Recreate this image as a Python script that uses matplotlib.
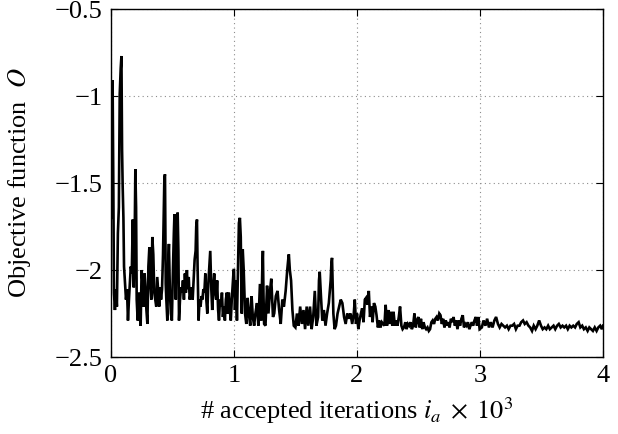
import matplotlib
matplotlib.use('Agg')
import matplotlib.pyplot as plt
import numpy as np

# accepted iterations 0..1000
seg_a_iters = [
    0, 8, 13, 19, 24, 32, 40, 48, 56, 64,
    71, 79, 85, 90, 95, 101, 106, 114, 122, 130,
    138, 146, 153, 161, 169, 177, 185, 193, 198, 204,
    209, 217, 225, 233, 241, 249, 257, 265, 273, 280,
    288, 296, 304, 312, 320, 328, 336, 344, 352, 360,
    368, 376, 384, 392, 400, 407, 415, 423, 429, 434,
    439, 445, 450, 458, 466, 471, 479, 487, 495, 503,
    511, 516, 521, 527, 534, 542, 548, 553, 561, 569,
    577, 585, 593, 601, 609, 617, 624, 632, 640, 648,
    656, 664, 672, 680, 688, 693, 699, 704, 712, 720,
    728, 736, 743, 751, 759, 767, 775, 783, 791, 799,
    807, 815, 823, 831, 839, 847, 855, 863, 871, 878,
    886, 894, 902, 910, 918, 926, 934, 942, 950, 958,
    966, 974, 982, 990, 997]
seg_a_vals = [
    -1.70, -1.33, -0.91, -1.52, -2.13, -2.23, -2.11, -2.21, -1.79, -1.64,
    -0.99, -0.84, -0.77, -1.31, -1.52, -1.70, -1.98, -2.08, -2.17, -2.11,
    -2.29, -2.17, -2.08, -1.98, -2.02, -1.71, -2.10, -1.79, -1.42, -1.64,
    -2.17, -2.29, -2.13, -2.25, -2.32, -2.00, -2.08, -2.21, -2.02, -2.10,
    -2.23, -2.31, -1.98, -1.87, -2.08, -2.17, -1.81, -1.91, -2.13, -2.17,
    -2.21, -2.04, -2.13, -2.21, -2.10, -2.17, -2.11, -1.91, -1.68, -1.47,
    -1.45, -2.08, -2.17, -2.29, -1.94, -1.85, -2.13, -2.25, -2.29, -2.02,
    -1.79, -1.68, -1.91, -2.17, -1.79, -1.67, -1.89, -2.29, -2.17, -2.10,
    -2.13, -2.06, -2.17, -2.02, -2.13, -2.00, -2.11, -2.04, -2.17, -2.13,
    -2.10, -2.17, -2.06, -1.94, -1.89, -1.75, -1.71, -1.98, -2.29, -2.17,
    -2.21, -2.15, -2.17, -2.11, -2.13, -2.02, -2.17, -2.25, -2.08, -1.98,
    -1.89, -2.10, -2.23, -2.10, -2.02, -2.13, -2.17, -2.06, -2.23, -2.29,
    -2.17, -2.21, -2.13, -2.27, -2.21, -2.29, -2.17, -2.13, -2.25, -2.13,
    -2.23, -2.29, -2.17, -2.08, -2.00]

# accepted iterations 1000..2000
seg_b_iters = [
    1000, 1008, 1016, 1024, 1032, 1040, 1048, 1055, 1063, 1071,
    1079, 1090, 1100, 1111, 1121, 1132, 1143, 1153, 1164, 1174,
    1187, 1198, 1211, 1222, 1230, 1235, 1240, 1245, 1256, 1269,
    1280, 1293, 1303, 1317, 1327, 1340, 1354, 1367, 1380, 1393,
    1406, 1420, 1433, 1441, 1446, 1454, 1464, 1475, 1486, 1499,
    1512, 1525, 1538, 1552, 1565, 1578, 1591, 1604, 1618, 1631,
    1644, 1657, 1670, 1684, 1691, 1697, 1707, 1718, 1731, 1744,
    1757, 1771, 1786, 1792, 1797, 1802, 1808, 1818, 1829, 1842,
    1855, 1868, 1881, 1895, 1908, 1921, 1934, 1947, 1961, 1974,
    1982, 1992]
seg_b_vals = [
    -2.00, -2.23, -2.06, -2.29, -2.00, -1.73, -1.70, -1.81, -2.25, -1.88,
    -2.00, -2.25, -2.31, -2.16, -2.25, -2.32, -2.15, -2.27, -2.32, -2.25,
    -2.19, -2.32, -2.08, -2.29, -2.00, -1.89, -2.15, -2.31, -2.32, -2.09,
    -2.25, -2.12, -2.05, -2.27, -2.25, -2.15, -2.12, -2.23, -2.31, -2.17,
    -2.21, -2.12, -2.00, -1.94, -1.91, -2.00, -2.06, -2.23, -2.32, -2.33,
    -2.25, -2.32, -2.21, -2.31, -2.23, -2.34, -2.21, -2.32, -2.21, -2.34,
    -2.27, -2.12, -2.32, -2.27, -2.06, -2.01, -2.15, -2.29, -2.23, -2.32,
    -2.25, -2.19, -2.06, -1.96, -1.93, -2.08, -2.25, -2.34, -2.32, -2.25,
    -2.21, -2.17, -2.19, -2.27, -2.31, -2.25, -2.28, -2.25, -2.31, -2.25,
    -2.17, -2.31]

# accepted iterations 2000..3000
seg_c_iters = [
    2000, 2011, 2021, 2032, 2042, 2053, 2064, 2074, 2085, 2096,
    2106, 2117, 2127, 2138, 2149, 2159, 2170, 2180, 2191, 2202,
    2212, 2223, 2233, 2244, 2255, 2265, 2276, 2287, 2297, 2308,
    2318, 2329, 2340, 2350, 2361, 2371, 2382, 2393, 2403, 2414,
    2424, 2435, 2446, 2456, 2467, 2478, 2488, 2499, 2509, 2520,
    2531, 2541, 2552, 2562, 2573, 2584, 2594, 2605, 2615, 2626,
    2637, 2647, 2658, 2669, 2679, 2690, 2700, 2711, 2722, 2732,
    2743, 2753, 2764, 2775, 2785, 2796, 2806, 2817, 2828, 2838,
    2849, 2860, 2870, 2881, 2891, 2902, 2913, 2923, 2934, 2944,
    2955, 2966, 2976, 2987, 2997]
seg_c_vals = [
    -2.25, -2.34, -2.29, -2.25, -2.22, -2.30, -2.17, -2.16, -2.20, -2.12,
    -2.27, -2.21, -2.30, -2.19, -2.21, -2.26, -2.33, -2.29, -2.33, -2.30,
    -2.31, -2.32, -2.20, -2.32, -2.23, -2.31, -2.24, -2.32, -2.24, -2.32,
    -2.29, -2.32, -2.27, -2.21, -2.32, -2.34, -2.33, -2.30, -2.34, -2.31,
    -2.32, -2.30, -2.34, -2.32, -2.25, -2.33, -2.29, -2.27, -2.33, -2.28,
    -2.34, -2.30, -2.33, -2.34, -2.33, -2.35, -2.34, -2.30, -2.29, -2.31,
    -2.28, -2.27, -2.29, -2.25, -2.26, -2.31, -2.28, -2.33, -2.29, -2.32,
    -2.30, -2.33, -2.28, -2.30, -2.27, -2.32, -2.29, -2.34, -2.29, -2.32,
    -2.28, -2.26, -2.33, -2.31, -2.32, -2.30, -2.34, -2.32, -2.30, -2.32,
    -2.29, -2.27, -2.32, -2.27, -2.34]

# accepted iterations 3000..4000
seg_d_iters = [
    3015, 3029, 3044, 3058, 3073, 3087, 3102, 3117, 3131, 3146,
    3160, 3175, 3189, 3204, 3219, 3233, 3248, 3262, 3277, 3292,
    3306, 3321, 3335, 3350, 3364, 3379, 3394, 3408, 3423, 3437,
    3452, 3466, 3481, 3496, 3510, 3525, 3539, 3554, 3568, 3583,
    3598, 3612, 3627, 3641, 3656, 3671, 3685, 3700, 3714, 3729,
    3743, 3758, 3773, 3787, 3802, 3816, 3831, 3845, 3860, 3875,
    3889, 3904, 3918, 3933, 3948, 3962, 3977, 3991, 4000]
seg_d_vals = [
    -2.33, -2.29, -2.32, -2.28, -2.33, -2.30, -2.33, -2.29, -2.27, -2.31,
    -2.33, -2.31, -2.32, -2.33, -2.32, -2.34, -2.32, -2.32, -2.31, -2.34,
    -2.32, -2.32, -2.30, -2.29, -2.31, -2.30, -2.32, -2.33, -2.35, -2.32,
    -2.34, -2.32, -2.29, -2.32, -2.34, -2.33, -2.34, -2.32, -2.34, -2.33,
    -2.32, -2.34, -2.32, -2.31, -2.33, -2.32, -2.33, -2.32, -2.34, -2.32,
    -2.33, -2.32, -2.33, -2.31, -2.30, -2.33, -2.32, -2.34, -2.33, -2.35,
    -2.33, -2.34, -2.35, -2.33, -2.35, -2.33, -2.32, -2.34, -2.32]

x_ticks = [0, 1, 2, 3, 4]
x_ticklabels = ['0', '1', '2', '3', '4']
y_ticks = [-2.5, -2, -1.5, -1, -0.5]
y_ticklabels = ['\u22122.5', '\u22122', '\u22121.5', '\u22121', '\u22120.5']

iters = np.array(seg_a_iters + seg_b_iters + seg_c_iters + seg_d_iters) / 1000.0
objective = np.array(seg_a_vals + seg_b_vals + seg_c_vals + seg_d_vals)

plt.rcParams['font.family'] = ['Liberation Serif', 'DejaVu Serif']
plt.rcParams['mathtext.fontset'] = 'stix'
plt.rcParams['font.size'] = 19

fig = plt.figure(figsize=(6.18, 4.34), dpi=100)
ax = fig.add_axes([0.1796, 0.1774, 0.7961, 0.8018])

ax.plot(iters, objective, color='k', lw=1.9, solid_joinstyle='miter')

ax.set_xlim(0, 4)
ax.set_ylim(-2.5, -0.5)
ax.set_xticks(x_ticks)
ax.set_xticklabels(x_ticklabels)
ax.set_yticks(y_ticks)
ax.set_yticklabels(y_ticklabels)
ax.grid(True, linestyle=(0, (1, 3)), color='0.55', lw=0.8)
ax.tick_params(direction='in', top=True, right=True, length=5, width=0.8, pad=6)
for sp in ax.spines.values():
    sp.set_linewidth(1.0)

ax.set_xlabel('# accepted iterations $i_a\\;\\times\\;10^3$', labelpad=6)
ax.set_ylabel('Objective function  $O$', labelpad=16)

fig.savefig('out.png', dpi=100)
